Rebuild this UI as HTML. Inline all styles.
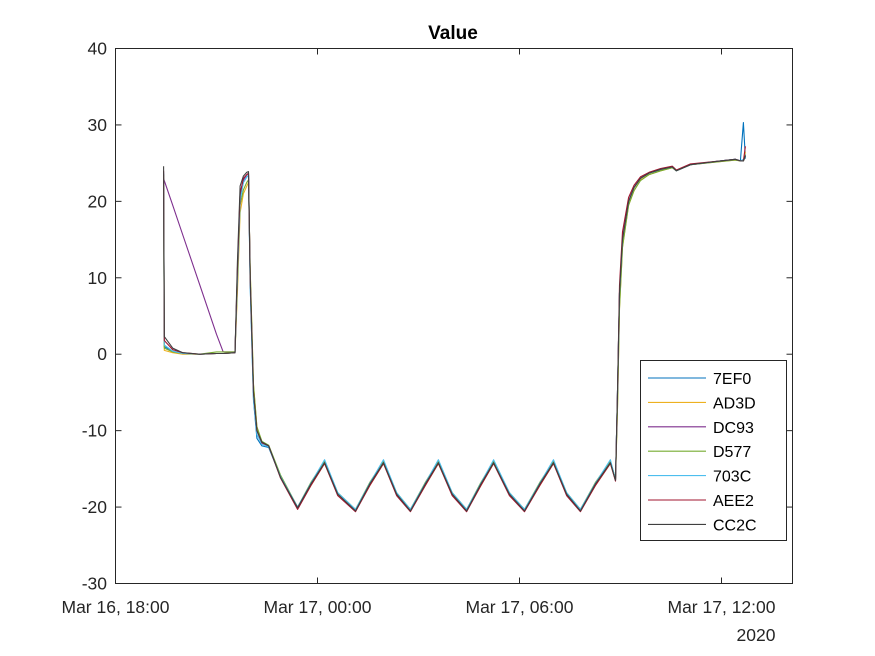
<!DOCTYPE html>
<html><head><meta charset="utf-8"><style>
body{margin:0;background:#fff;}
svg{display:block;font-family:"Liberation Sans",Arial,sans-serif;}
</style></head><body>
<svg id="chart" width="875" height="656" viewBox="0 0 875 656">
<rect width="875" height="656" fill="#fff"/>
<text x="453" y="39" text-anchor="middle" font-size="19" font-weight="bold" fill="#000">Value</text>
<g id="series" fill="none"></g>
<rect x="115.5" y="48.5" width="677" height="535" fill="none" stroke="#262626" stroke-width="1"/>
<g id="ticks"></g>
<g id="legend"></g>
</svg>
<script>
const hours=[1.43,1.45,1.7,2.0,2.5,3.0,3.2,3.55,3.62,3.7,3.8,3.9,3.95,4.0,4.1,4.2,4.35,4.55,4.9,5.41,5.8,6.21,6.6,7.13,7.55,7.96,8.35,8.76,9.2,9.59,10.0,10.43,10.85,11.23,11.7,12.15,12.6,13.01,13.4,13.81,14.25,14.70,14.85,14.91,14.97,15.06,15.24,15.4,15.59,15.85,16.19,16.54,16.66,17.08,17.97,18.41,18.56,18.65,18.71];
const seriesNames=["7EF0","AD3D","DC93","D577","703C","AEE2","CC2C"];
const v7EF0=[23.6,1.0,0.4,0.1,0.0,0.1,0.1,0.2,10,20.5,22.5,23.2,23.4,9,-6,-11,-12,-12.2,-16,-20,-17,-14,-18.2,-20.3,-17,-14,-18.2,-20.3,-17,-14,-18.2,-20.3,-17,-14,-18.2,-20.3,-17,-14,-18.2,-20.3,-17,-14,-16.4,-5,8,15,20,21.8,23,23.7,24.1,24.4,24,24.8,25.3,25.5,25.3,30.3,25.6];
const vAD3D=[23.4,0.5,0.2,0.0,0.0,0.1,0.1,0.2,8,18.5,21,22,22.5,11,-4,-9.5,-11.5,-12,-16,-20.2,-17.2,-14.3,-18.4,-20.5,-17.2,-14.3,-18.4,-20.5,-17.2,-14.3,-18.4,-20.5,-17.2,-14.3,-18.4,-20.5,-17.2,-14.3,-18.4,-20.5,-17.2,-14.3,-16.5,-7,6,14,19.5,21.4,22.8,23.5,24,24.4,24,24.8,25.2,25.4,25.3,25.3,26.5];
const vDC93=[23.0,22.7,19.5,15.6,9.1,2.6,0.3,0.3,10,21,22.8,23.5,23.6,10,-5,-10,-11.6,-12,-16,-20,-17,-14.1,-18.2,-20.4,-17,-14.1,-18.2,-20.4,-17,-14.1,-18.2,-20.4,-17,-14.1,-18.2,-20.4,-17,-14.1,-18.2,-20.4,-17,-14.1,-16.5,-5,8,15,20,21.8,23,23.7,24.2,24.5,24,24.8,25.3,25.5,25.3,25.3,25.8];
const vD577=[23.5,0.8,0.3,0.1,0.0,0.3,0.3,0.3,9,19.5,21.5,22.5,22.8,11,-4,-9.5,-11.4,-11.9,-15.8,-20,-16.8,-14,-18.1,-20.3,-16.8,-14,-18.1,-20.3,-16.8,-14,-18.1,-20.3,-16.8,-14,-18.1,-20.3,-16.8,-14,-18.1,-20.3,-16.8,-14,-16.3,-7,6,14,19.5,21.4,22.7,23.5,24,24.4,24,24.8,25.2,25.4,25.3,25.3,25.9];
const v703C=[23.8,1.2,0.4,0.1,0.0,0.1,0.1,0.2,10,20,22.5,23.2,23.4,9,-6,-10.5,-11.8,-12.1,-16,-20,-16.9,-13.8,-18.1,-20.3,-16.9,-13.8,-18.1,-20.3,-16.9,-13.8,-18.1,-20.3,-16.9,-13.8,-18.1,-20.3,-16.9,-13.8,-18.1,-20.3,-16.9,-13.8,-16.4,-5,8,15,20,21.8,23,23.7,24.2,24.5,24,24.8,25.3,25.5,25.3,25.5,25.8];
const vAEE2=[24.0,1.8,0.6,0.2,0.0,0.1,0.1,0.2,11,21,23,23.5,23.7,10,-5,-10,-11.6,-12,-16.2,-20.3,-17.2,-14.3,-18.5,-20.6,-17.2,-14.3,-18.5,-20.6,-17.2,-14.3,-18.5,-20.6,-17.2,-14.3,-18.5,-20.6,-17.2,-14.3,-18.5,-20.6,-17.2,-14.3,-16.6,-5,9,16,20.5,22.1,23.2,23.8,24.3,24.6,24.1,24.9,25.3,25.5,25.3,25.3,27.2];
const vCC2C=[24.6,2.3,0.8,0.2,0.0,0.1,0.1,0.2,12,22,23.3,23.8,23.9,10,-5,-10,-11.5,-12,-16.1,-20.1,-17,-14.2,-18.3,-20.5,-17,-14.2,-18.3,-20.5,-17,-14.2,-18.3,-20.5,-17,-14.2,-18.3,-20.5,-17,-14.2,-18.3,-20.5,-17,-14.2,-16.5,-5,8,15,20,21.8,23,23.7,24.2,24.5,24,24.8,25.3,25.5,25.3,25.3,26];
const yTicks=[-30,-20,-10,0,10,20,30,40];
const xTickHours=[0,6,12,18];
const xTickLabels=["Mar 16, 18:00","Mar 17, 00:00","Mar 17, 06:00","Mar 17, 12:00"];

const colors=["#0072BD","#EDB120","#7E2F8E","#77AC30","#4DBEEE","#A2142F","#404040"];
const allVals=[v7EF0,vAD3D,vDC93,vD577,v703C,vAEE2,vCC2C];
const L=115.5,R=792.5,T=48.5,B=583.5;
const xMin=0,xMax=677/(202/6);
const sx=h=>L+(h-xMin)/(xMax-xMin)*(R-L);
const sy=v=>B-(v-(-30))/70*(B-T);
const NS="http://www.w3.org/2000/svg";
function mk(tag,attrs,parent){const e=document.createElementNS(NS,tag);for(const k in attrs)e.setAttribute(k,attrs[k]);parent.appendChild(e);return e;}
const ticks=document.getElementById("ticks");
yTicks.forEach(v=>{
  const y=sy(v);
  const l1=mk("line",{x1:L,x2:L+6,y1:y,y2:y,stroke:"#262626"},ticks);
  
  
  const l2=mk("line",{x1:R,x2:R-6,y1:y,y2:y,stroke:"#262626"},ticks);
  
  
  const t=mk("text",{x:107,y:y+6,"text-anchor":"end","font-size":"17.5",fill:"#262626"},ticks);
  t.textContent=v;
  
  
});
xTickHours.forEach((h,i)=>{
  const x=sx(h);
  const l1=mk("line",{x1:x,x2:x,y1:B,y2:B-6,stroke:"#262626"},ticks);
  
  
  const l2=mk("line",{x1:x,x2:x,y1:T,y2:T+6,stroke:"#262626"},ticks);
  
  
  const t=mk("text",{x:x,y:613,"text-anchor":"middle","font-size":"17.5",fill:"#262626"},ticks);
  t.textContent=xTickLabels[i];
  
  
});
const yr=mk("text",{x:756,y:641,"text-anchor":"middle","font-size":"17.5",fill:"#262626"},ticks);
yr.textContent="2020";



const sg=document.getElementById("series");
allVals.forEach((vals,i)=>{
  const d=vals.map((v,j)=>(j?"L":"M")+sx(hours[j]).toFixed(1)+","+sy(v).toFixed(1)).join("");
  const p=mk("path",{d:d,stroke:colors[i],"stroke-width":"1.1","stroke-linejoin":"round"},sg);
  
  
});
const lg=document.getElementById("legend");
const box=mk("rect",{x:640.5,y:360.5,width:146,height:180,fill:"#fff",stroke:"#262626"},lg);


seriesNames.forEach((n,i)=>{
  const y=378+i*24.4;
  const ln=mk("line",{x1:648,x2:706,y1:y,y2:y,stroke:colors[i],"stroke-width":"1.1"},lg);
  
  
  const t=mk("text",{x:713,y:y+6,"font-size":"16",fill:"#000"},lg);
  t.textContent=n;
  
  
});
</script>
</body></html>
